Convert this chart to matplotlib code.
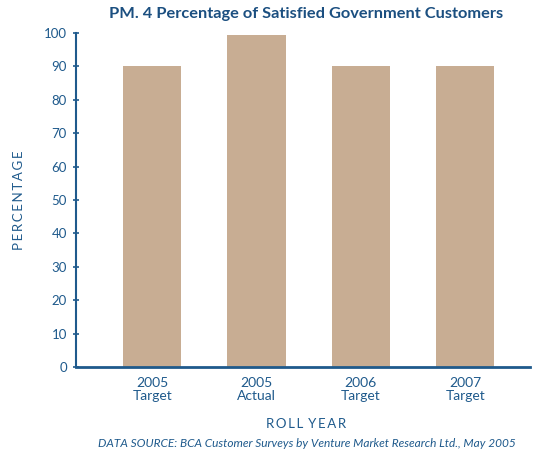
import matplotlib.pyplot as plt
import numpy as np

# data
categories = ['2005\nTarget', '2005\nActual', '2006\nTarget', '2007\nTarget']
values = [90, 99.5, 90, 90]
yticks = [0, 10, 20, 30, 40, 50, 60, 70, 80, 90, 100]

blue = '#1F5A8C'
bar_color = '#C8AD93'

plt.rcParams['font.family'] = ['Lato', 'DejaVu Sans']

fig = plt.figure(figsize=(5.34, 4.53), dpi=100, facecolor='white')
ax = fig.add_axes([0.1423, 0.19, 0.85, 0.737])

x = np.arange(len(categories))
ax.bar(x, values, width=0.56, color=bar_color, zorder=2)

ax.set_xlim(-0.73, 3.62)
ax.set_ylim(0, 100)
ax.set_yticks(yticks)
ax.set_yticklabels([str(t) for t in yticks], fontsize=9.5, color=blue)
ax.set_xticks(x)
ax.set_xticklabels(categories, fontsize=10, color=blue, linespacing=1.15)

ax.tick_params(axis='y', direction='inout', length=5, width=1.2, color=blue, pad=4)
ax.tick_params(axis='x', length=0, pad=7)

for s in ['top', 'right']:
    ax.spines[s].set_visible(False)
ax.spines['left'].set_color(blue)
ax.spines['bottom'].set_color(blue)
ax.spines['left'].set_linewidth(1.5)
ax.spines['bottom'].set_linewidth(2)

ax.set_ylabel('P E R C E N T A G E'.replace(' ', '\u2009'), fontsize=9.5, color=blue, labelpad=14)

fig.text(0.573, 0.97, 'PM. 4 Percentage of Satisfied Government Customers',
         ha='center', va='center', fontsize=11.8, fontweight='bold', color='#1B4F80')
fig.text(0.573, 0.063, 'R O L L   Y E A R'.replace(' ', '\u2009'), ha='center', va='center',
         fontsize=9.5, color=blue)
fig.text(0.966, 0.02, 'DATA SOURCE: BCA Customer Surveys by Venture Market Research Ltd., May 2005',
         ha='right', va='center', fontsize=8.6, style='italic', color=blue)

plt.savefig('out.png', dpi=100, facecolor='white')
